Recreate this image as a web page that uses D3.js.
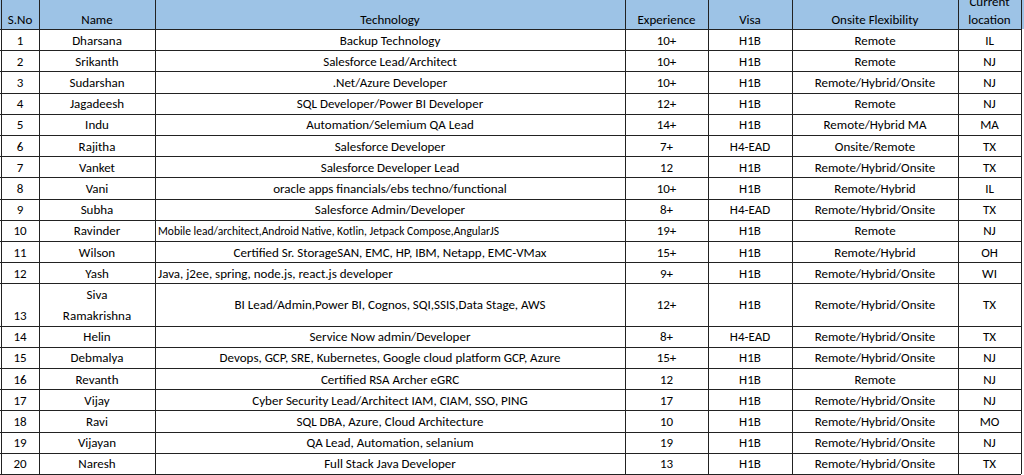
<html>
<head>
<script src="https://d3js.org/d3.v7.min.js"></script>
<style>body{margin:0;background:#fff}</style>
</head>
<body>
<div id="container"></div>
<script>
const headers = ['S.No', 'Name', 'Technology', 'Experience', 'Visa', 'Onsite Flexibility', 'Current location']
const names = ['Dharsana','Srikanth','Sudarshan','Jagadeesh','Indu','Rajitha','Vanket','Vani','Subha','Ravinder','Wilson','Yash','Siva Ramakrishna','Helin','Debmalya','Revanth','Vijay','Ravi','Vijayan','Naresh']
const technology = ['Backup Technology','Salesforce Lead/Architect','.Net/Azure Developer','SQL Developer/Power BI Developer','Automation/Selemium QA Lead','Salesforce Developer','Salesforce Developer Lead','oracle apps financials/ebs techno/functional','Salesforce Admin/Developer','Mobile lead/architect,Android Native, Kotlin, Jetpack Compose,AngularJS','Certified Sr. StorageSAN, EMC, HP, IBM, Netapp, EMC-VMax','Java, j2ee, spring, node.js, react.js developer','BI Lead/Admin,Power BI, Cognos, SQI,SSIS,Data Stage, AWS','Service Now admin/Developer','Devops, GCP, SRE, Kubernetes, Google cloud platform GCP, Azure','Certified RSA Archer eGRC','Cyber Security Lead/Architect IAM, CIAM, SSO, PING','SQL DBA, Azure, Cloud Architecture','QA Lead, Automation, selanium','Full Stack Java Developer']
const experience = ['10+','10+','10+','12+','14+','7+','12','10+','8+','19+','15+','9+','12+','8+','15+','12','17','10','19','13']
const visa = ['H1B','H1B','H1B','H1B','H1B','H4-EAD','H1B','H1B','H4-EAD','H1B','H1B','H1B','H1B','H4-EAD','H1B','H1B','H1B','H1B','H1B','H1B']
const onsite = ['Remote','Remote','Remote/Hybrid/Onsite','Remote','Remote/Hybrid MA','Onsite/Remote','Remote/Hybrid/Onsite','Remote/Hybrid','Remote/Hybrid/Onsite','Remote','Remote/Hybrid','Remote/Hybrid/Onsite','Remote/Hybrid/Onsite','Remote/Hybrid/Onsite','Remote/Hybrid/Onsite','Remote','Remote/Hybrid/Onsite','Remote/Hybrid/Onsite','Remote/Hybrid/Onsite','Remote/Hybrid/Onsite']
const currentLocation = ['IL','NJ','NJ','NJ','MA','TX','TX','IL','TX','NJ','OH','WI','TX','TX','NJ','NJ','NJ','MO','NJ','TX']
const rowUnits = names.map(n => n === 'Siva Ramakrishna' ? 2 : 1)

const colEdges = [1, 39, 155, 625, 708, 792, 958, 1021]
const width = 1024, height = 475, headerH = 29

const cum = [0]
rowUnits.forEach(u => cum.push(cum[cum.length - 1] + u))
const y = d3.scaleLinear().domain([0, cum[cum.length - 1]]).range([headerH, 474])

const rows = names.map((n, i) => ({
    cells: [String(i + 1), n, technology[i], experience[i], visa[i], onsite[i], currentLocation[i]],
    y0: y(cum[i]), y1: y(cum[i + 1])
}))

const svg = d3.select('#container').append('svg')
    .attr('width', width).attr('height', height)
    .style('font-family', 'Calibri, Carlito, "Open Sans", sans-serif')

svg.append('rect').attr('x', 0).attr('y', 0).attr('width', width).attr('height', headerH).attr('fill', '#9dc3e6')

// header text
headers.forEach((h, j) => {
    const cx = (colEdges[j] + colEdges[j + 1]) / 2
    if (j === 6) {
        svg.append('text').attr('x', cx).attr('y', 6).attr('text-anchor', 'middle').attr('font-size', 13).text('Current')
        svg.append('text').attr('x', cx).attr('y', 24).attr('text-anchor', 'middle').attr('font-size', 13).text('location')
    } else {
        svg.append('text').attr('x', cx).attr('y', 24).attr('text-anchor', 'middle').attr('font-size', 13).text(h)
    }
})

// body
const g = svg.selectAll('g.row').data(rows).enter().append('g').attr('class', 'row')
g.each(function(r, i) {
    const sel = d3.select(this)
    r.cells.forEach((c, j) => {
        const x0 = colEdges[j], x1 = colEdges[j + 1], cx = (x0 + x1) / 2
        const my = (r.y0 + r.y1) / 2 + 5
        if (j === 1 && c === 'Siva Ramakrishna') {
            sel.append('text').attr('x', cx).attr('y', r.y0 + 16).attr('text-anchor', 'middle').attr('font-size', 13).text('Siva')
            sel.append('text').attr('x', cx).attr('y', r.y1 - 6).attr('text-anchor', 'middle').attr('font-size', 13).text('Ramakrishna')
            return
        }
        if (j === 0 && rowUnits[i] === 2) {
            sel.append('text').attr('x', cx).attr('y', r.y1 - 6).attr('text-anchor', 'middle').attr('font-size', 13).text(c)
            return
        }
        const t = sel.append('text').attr('font-size', 13).text(c)
        if (j === 2 && (i === 9 || i === 11)) {
            t.attr('x', x0 + 3).attr('y', my).attr('text-anchor', 'start')
            if (i === 9) t.attr('font-size', 11.5)
        } else {
            t.attr('x', cx).attr('y', my).attr('text-anchor', 'middle')
        }
        const w = t.node().getComputedTextLength()
        if (w > x1 - x0 - 6) t.attr('textLength', x1 - x0 - 6).attr('lengthAdjust', 'spacingAndGlyphs')
    })
})

// grid lines
const lines = svg.append('g').attr('stroke', '#222').attr('stroke-width', 1)
colEdges.forEach(x => lines.append('line').attr('x1', x + 0.5).attr('x2', x + 0.5).attr('y1', 0).attr('y2', 474))
lines.append('line').attr('x1', 0).attr('x2', 1021).attr('y1', headerH + 0.5).attr('y2', headerH + 0.5)
rows.forEach(r => lines.append('line').attr('x1', 0).attr('x2', 1021).attr('y1', Math.round(r.y1) + 0.5).attr('y2', Math.round(r.y1) + 0.5))
</script>
</body>
</html>
